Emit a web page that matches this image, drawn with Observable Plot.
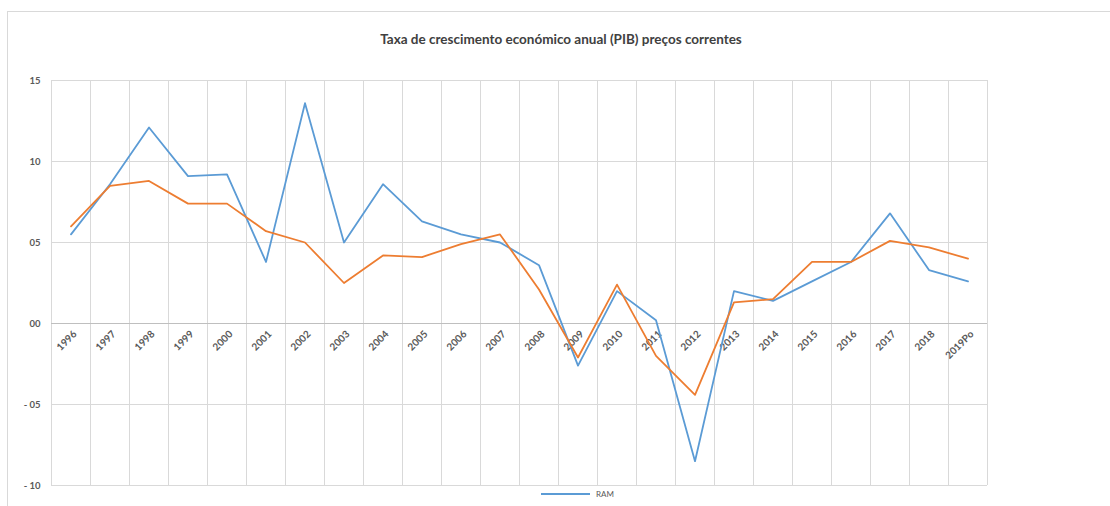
<!DOCTYPE html>
<html>
<head>
<meta charset="utf-8">
<script src="https://cdn.jsdelivr.net/npm/d3@7"></script>
<script src="https://cdn.jsdelivr.net/npm/@observablehq/plot@0.6"></script>
<style>
  html, body { margin: 0; padding: 0; background: #fff; }
  #wrap { position: relative; width: 1110px; height: 506px; overflow: hidden; font-family: Lato, "Open Sans", sans-serif; }
  #frame { position: absolute; left: 7px; top: 11px; width: 1200px; height: 600px; border: 1px solid #d9d9d9; box-sizing: border-box; }
  #title { position: absolute; left: 0; top: 31px; width: 1122px; text-align: center; font-weight: bold; font-size: 13.5px; color: #404040; }
  #chart { position: absolute; left: 0; top: 60px; }
  #legend { position: absolute; left: 541px; top: 489px; font-size: 8px; color: #595959; display: flex; align-items: center; }
  #legend .sw { width: 49px; height: 2px; background: #5B9BD5; margin-right: 6px; }
</style>
</head>
<body>
<div id="wrap">
  <div id="frame"></div>
  <div id="title">Taxa de crescimento económico anual (PIB) preços correntes</div>
  <div id="chart"></div>
  <div id="legend"><span class="sw"></span><span>RAM</span></div>
</div>
<script>
const years = ["1996","1997","1998","1999","2000","2001","2002","2003","2004","2005","2006","2007","2008","2009","2010","2011","2012","2013","2014","2015","2016","2017","2018","2019Po"];
const ram = [5.5, 8.6, 12.1, 9.1, 9.2, 3.8, 13.6, 5.0, 8.6, 6.3, 5.5, 5.0, 3.6, -2.6, 2.0, 0.2, -8.5, 2.0, 1.4, 2.6, 3.8, 6.8, 3.3, 2.6];
const serie2 = [6.0, 8.5, 8.8, 7.4, 7.4, 5.7, 5.0, 2.5, 4.2, 4.1, 4.9, 5.5, 2.1, -2.1, 2.4, -2.0, -4.4, 1.3, 1.5, 3.8, 3.8, 5.1, 4.7, 4.0];
const yTicks = [-10, -5, 0, 5, 10, 15];
const yTickLabels = ["- 10", "- 05", "00", "05", "10", "15"];

const idx = years.map((_, i) => i);
const rows1 = idx.map(i => ({i, v: ram[i]}));
const rows2 = idx.map(i => ({i, v: serie2[i]}));
const bounds = d3.range(years.length + 1).map(k => k - 0.5);
const labelOf = new Map(yTicks.map((t, k) => [t, yTickLabels[k]]));

const plot = Plot.plot({
  width: 1110,
  height: 430,
  marginTop: 20,
  marginBottom: 5,
  marginLeft: 51,
  marginRight: 123,
  style: {fontFamily: "Lato, 'Open Sans', sans-serif", background: "transparent"},
  x: {type: "linear", domain: [-0.5, years.length - 0.5], axis: null},
  y: {domain: [-10, 15], axis: null},
  marks: [
    Plot.ruleY(yTicks.filter(t => t !== 0), {stroke: "#d9d9d9", strokeWidth: 1}),
    Plot.ruleX(bounds, {stroke: "#d9d9d9", strokeWidth: 1}),
    Plot.ruleY([0], {stroke: "#bfbfbf", strokeWidth: 1}),
    Plot.axisY({ticks: yTicks, label: null, tickSize: 0, tickPadding: 11, tickFormat: d => labelOf.get(d), fontSize: 9.5, fontWeight: "bold", fill: "#595959"}),
    Plot.text(idx, {x: d => d, y: () => 0, text: d => years[d], rotate: -45, textAnchor: "end", dx: 4, dy: 9, fontSize: 10, fontWeight: "bold", fill: "#595959"}),
    Plot.line(rows1, {x: "i", y: "v", stroke: "#5B9BD5", strokeWidth: 1.8}),
    Plot.line(rows2, {x: "i", y: "v", stroke: "#ED7D31", strokeWidth: 1.8})
  ]
});
document.getElementById("chart").appendChild(plot);
</script>
</body>
</html>
